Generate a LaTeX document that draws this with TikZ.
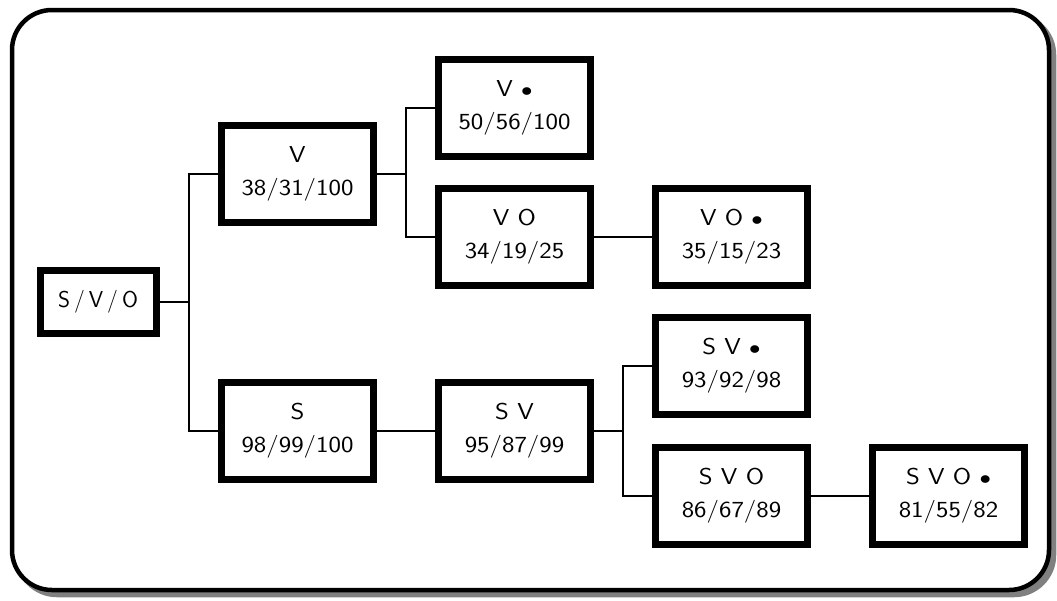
\documentclass[tikz,border=0pt]{standalone}
\usepackage{graphicx}
\usepackage{tikz}
\newcommand{\sxl}[1]{\scalebox{1.15}[1]{#1}}
\newcommand{\bul}{\scalebox{0.8}{$\bullet$}}
\begin{document}
\begin{tikzpicture}[x=1pt,y=-1pt,
  box/.style={draw=black,line width=7pt,fill=white,minimum width=152pt,minimum height=97pt,inner sep=0pt,align=center,
    font=\fontsize{23}{33}\selectfont\sffamily},
  conn/.style={draw=black,line width=2.5pt}]
\useasboundingbox (0,0) rectangle (1057,600);
\draw[gray,line width=4.5pt,fill=gray,rounded corners=40pt] (17,15) rectangle (1054,595);
\draw[black,line width=4.5pt,fill=white,rounded corners=40pt] (12,10) rectangle (1049,590);
\node[box,minimum width=116pt,minimum height=63pt] (svo) at (98,302) {S\kern4pt/\kern4pt V\kern4pt/\kern4pt O};
\node[box] (v) at (297.5,174) {\sxl{V}\\\sxl{38/31/100}};
\node[box] (vd) at (514.5,108) {\sxl{V \bul}\\\sxl{50/56/100}};
\node[box] (vo) at (514.5,237) {\sxl{V O}\\\sxl{34/19/25}};
\node[box] (vod) at (731.5,237) {\sxl{V O \bul}\\\sxl{35/15/23}};
\node[box] (s) at (297.5,431) {\sxl{S}\\\sxl{98/99/100}};
\node[box] (sv) at (514.5,431) {\sxl{S V}\\\sxl{95/87/99}};
\node[box] (svd) at (731.5,366) {\sxl{S V \bul}\\\sxl{93/92/98}};
\node[box] (svo2) at (731.5,496) {\sxl{S V O}\\\sxl{86/67/89}};
\node[box] (svod) at (948.5,496) {\sxl{S V O \bul}\\\sxl{81/55/82}};
\coordinate (j1) at (189,302);
\coordinate (j2) at (406,174);
\coordinate (j3) at (623,431);
\draw[conn] (svo.east) -- (j1);
\draw[conn] (v.west) -| (j1) |- (s.west);
\draw[conn] (v.east) -- (j2);
\draw[conn] (vd.west) -| (j2) |- (vo.west);
\draw[conn] (vo.east) -- (vod.west);
\draw[conn] (s.east) -- (sv.west);
\draw[conn] (sv.east) -- (j3);
\draw[conn] (svd.west) -| (j3) |- (svo2.west);
\draw[conn] (svo2.east) -- (svod.west);
\end{tikzpicture}
\end{document}
